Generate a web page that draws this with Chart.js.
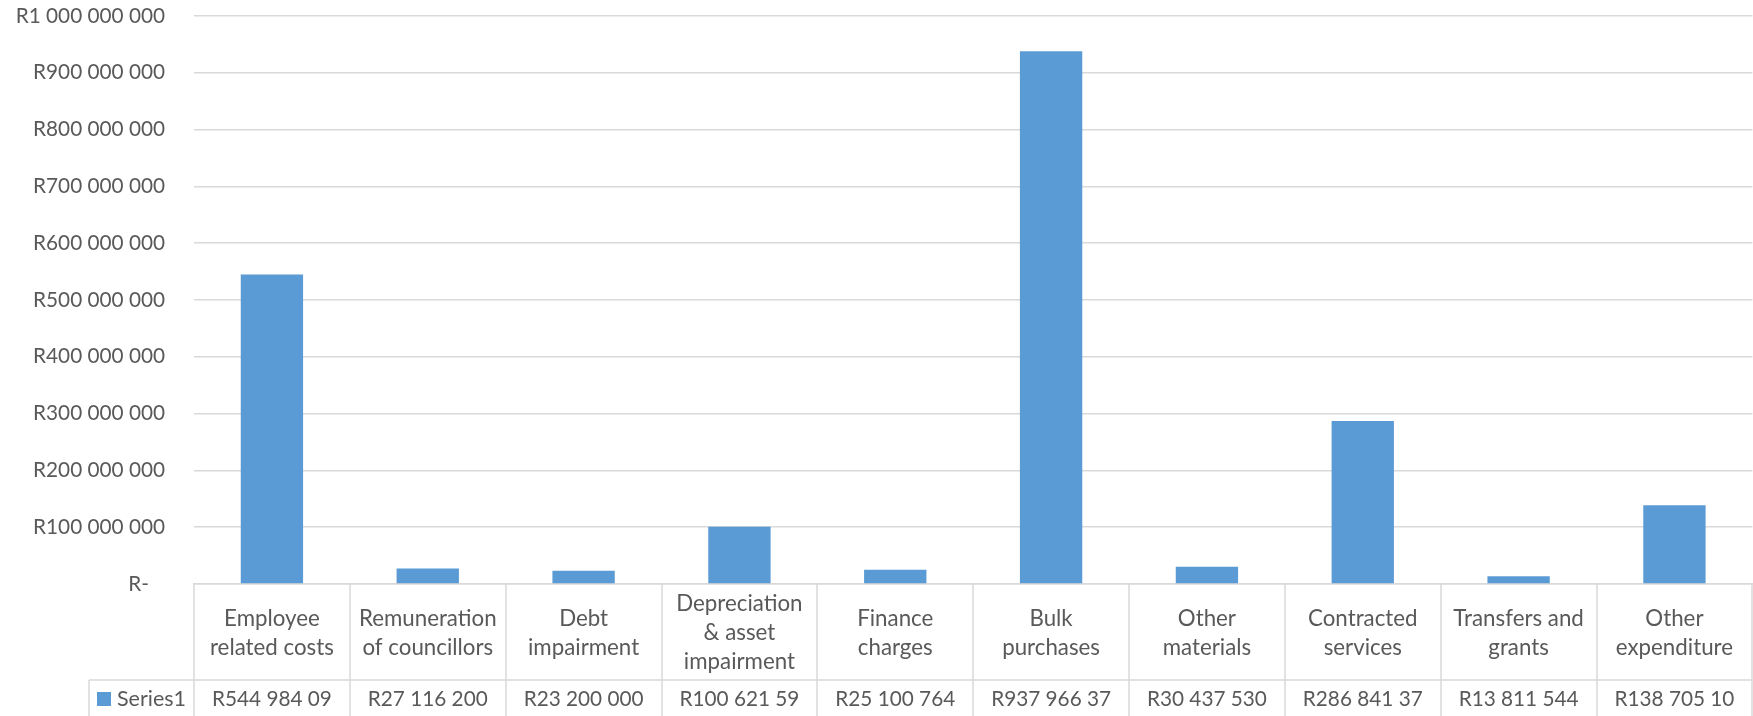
<!DOCTYPE html>
<html>
<head>
<meta charset="utf-8">
<script src="https://cdn.jsdelivr.net/npm/chart.js@4/dist/chart.umd.min.js"></script>
<style>
  body { margin: 0; background: #fff; }
  #wrap { width: 1753px; height: 716px; position: relative; }
</style>
</head>
<body>
<div id="wrap"><canvas id="chart"></canvas></div>
<script>
// Daten
const categories = [
    ["Employee", "related costs"],
    ["Remuneration", "of councillors"],
    ["Debt", "impairment"],
    ["Depreciation", "& asset", "impairment"],
    ["Finance", "charges"],
    ["Bulk", "purchases"],
    ["Other", "materials"],
    ["Contracted", "services"],
    ["Transfers and", "grants"],
    ["Other", "expenditure"]
];
const seriesName = "Series1";
const series1 = [544984090, 27116200, 23200000, 100621590, 25100764, 937966370, 30437530, 286841370, 13811544, 138705100];
// so wie sie in der Datentabelle (abgeschnitten) stehen
const tableLabels = ["R544 984 09", "R27 116 200", "R23 200 000", "R100 621 59", "R25 100 764", "R937 966 37", "R30 437 530", "R286 841 37", "R13 811 544", "R138 705 10"];
const yMax = 1000000000;
const yStep = 100000000;

const TEXT = "#595959";
const LINE = "#d9d9d9";
const BAR = "#5b9bd5";
const FONT = "Lato, 'Open Sans', sans-serif";

// Geldformat wie Excel: R1 000 000 000, Null als R-
function rand(v){
    if(v === 0) return "R-   ";
    return "R" + String(v).replace(/\B(?=(\d{3})+(?!\d))/g, " ");
}

// Datentabelle unter der Achse
const dataTable = {
    id: "dataTable",
    afterDraw(chart){
        const ctx = chart.ctx;
        const xs = chart.scales.x;
        const n = categories.length;
        const cw = xs.width / n;
        const rowY = xs.top + 96;
        const bottom = chart.height;
        const legendLeft = 89;

        ctx.save();
        ctx.strokeStyle = LINE;
        ctx.lineWidth = 1.5;
        ctx.beginPath();
        for(let i=0;i<=n;i++){
            const x = Math.round(xs.left + i*cw);
            ctx.moveTo(x, xs.top);
            ctx.lineTo(x, bottom);
        }
        ctx.moveTo(legendLeft, rowY);
        ctx.lineTo(xs.right, rowY);
        ctx.moveTo(legendLeft, rowY);
        ctx.lineTo(legendLeft, bottom);
        ctx.stroke();

        const midY = rowY + 19;
        ctx.fillStyle = TEXT;
        ctx.font = "20.75px " + FONT;
        ctx.textAlign = "center";
        ctx.textBaseline = "middle";
        tableLabels.forEach((t, i) => {
            ctx.fillText(t, xs.getPixelForValue(i), midY);
        });

        // Legendenschlüssel
        ctx.fillStyle = BAR;
        ctx.fillRect(97, midY - 7, 14, 14);
        ctx.fillStyle = TEXT;
        ctx.font = "21.5px " + FONT;
        ctx.textAlign = "left";
        ctx.fillText(seriesName, 117, midY);
        ctx.restore();
    }
};

new Chart(document.getElementById("chart"), {
    type: "bar",
    data: {
        labels: categories,
        datasets: [{
            label: seriesName,
            data: series1,
            backgroundColor: BAR,
            borderWidth: 0,
            categoryPercentage: 1,
            barPercentage: 0.4
        }]
    },
    options: {
        responsive: true,
        maintainAspectRatio: false,
        animation: false,
        layout: { padding: { top: 16, right: 0, left: 0, bottom: 0 } },
        plugins: {
            legend: { display: false },
            tooltip: { enabled: false }
        },
        scales: {
            x: {
                grid: { display: false, drawTicks: false },
                border: { display: true, color: LINE, width: 1.5 },
                ticks: {
                    color: TEXT,
                    font: { family: FONT, size: 22.3, lineHeight: 1.3 },
                    crossAlign: "center",
                    padding: 20,
                    maxRotation: 0,
                    autoSkip: false
                },
                afterFit(scale){ scale.height = 132; }
            },
            y: {
                min: 0,
                max: yMax,
                grid: { color: LINE, lineWidth: 1.5, drawTicks: false },
                border: { display: false },
                ticks: {
                    stepSize: yStep,
                    color: TEXT,
                    font: { family: FONT, size: 20.75 },
                    padding: 29,
                    callback: v => rand(v)
                },
                afterFit(scale){ scale.width = 194; scale.paddingTop = 0; scale.paddingBottom = 0; }
            }
        }
    },
    plugins: [dataTable]
});
</script>
</body>
</html>
